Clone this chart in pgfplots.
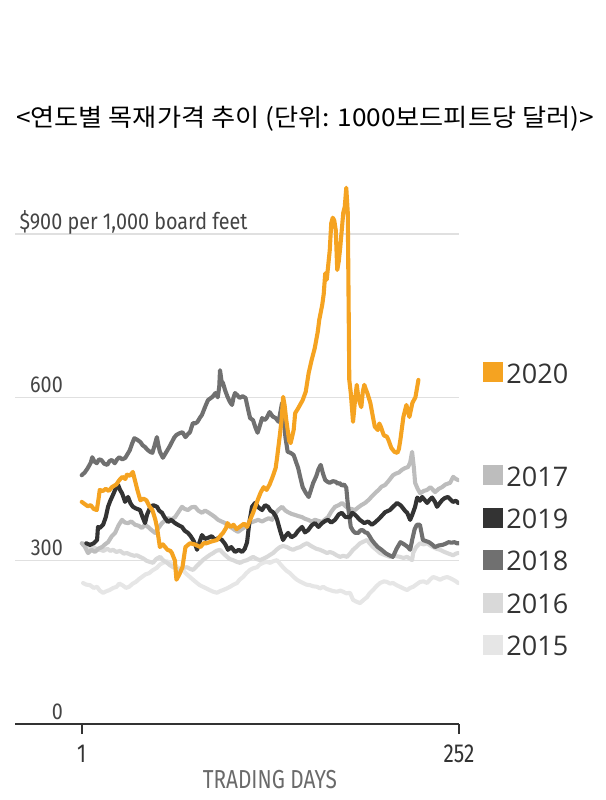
\documentclass[border=0pt]{standalone}
\usepackage{pgfplots}
\pgfplotsset{compat=1.18}
\usepackage{fontspec}
\setmainfont{Liberation Serif}
\newfontfamily\titlefont[FakeStretch=1.07]{Noto Sans CJK KR}
\newfontfamily\yfont[FakeStretch=0.86]{Fira Sans}
\newfontfamily\xfont[FakeStretch=0.8]{Fira Sans}
\newfontfamily\legfont{Open Sans}
\definecolor{c2020}{HTML}{F5A321}
\definecolor{c2017}{HTML}{BDBDBD}
\definecolor{c2019}{HTML}{333333}
\definecolor{c2018}{HTML}{707070}
\definecolor{c2016}{HTML}{D9D9D9}
\definecolor{c2015}{HTML}{E6E6E6}
\definecolor{ctext}{HTML}{333333}
\definecolor{cylab}{HTML}{444444}
\definecolor{cgrid}{HTML}{E0E0E0}
\definecolor{cxlab}{HTML}{6A6A6A}
\tikzset{ln/.style={line width=4.1bp, line join=round, line cap=round}}
\begin{document}
\begin{tikzpicture}
\useasboundingbox (-15bp,-76bp) rectangle (591bp,724bp);
\node[anchor=base, text=black, font=\titlefont\fontsize{24.5bp}{24.5bp}\selectfont] at (290bp,597bp) {<연도별 목재가격 추이 (단위: 1000보드피트당 달러)>};
\begin{axis}[
  scale only axis, width=444bp, height=544.4bp,
  xmin=-43.4, xmax=252, ymin=0, ymax=1000,
  axis x line*=bottom, axis y line*=left,
  separate axis lines,
  x axis line style={draw=ctext, line width=2.2bp},
  y axis line style={draw=none},
  xtick={1,252}, xticklabels={1,252},
  xtick align=outside, ytick align=inside,
  major tick length=10bp,
  xtick style={draw=ctext, line width=1.6bp},
  ytick style={draw=none},
  ytick={0,300,600,900},
  yticklabels={0,300,600,{\makebox[0pt][r]{\$900}\makebox[0pt][l]{\ per 1,000 board feet}}},
  ymajorgrids, grid style={draw=cgrid, line width=1.5bp},
  yticklabel style={anchor=base east, inner sep=0pt, xshift=48bp, yshift=5bp, text=cylab, font=\yfont\fontsize{23bp}{23bp}\selectfont},
  xticklabel style={anchor=base, inner sep=0pt, yshift=-28bp, text=ctext, font=\xfont\fontsize{26bp}{26bp}\selectfont},
  xlabel={TRADING DAYS},
  xlabel style={at={(axis description cs:0.574,0)}, anchor=base, inner sep=0pt, yshift=-64bp, text=cxlab, font=\xfont\fontsize{26bp}{26bp}\selectfont},
  legend style={at={(axis description cs:1.0541,0.6686)}, anchor=north west, draw=none, fill=none, inner sep=0pt, outer sep=0pt, row sep=18bp, column sep=4bp, font=\legfont\fontsize{27bp}{27bp}\selectfont, text=ctext, nodes={inner sep=0pt}},
  legend cell align=left,
]
% 2015
\addplot[c2015, ln, forget plot] coordinates {
(1.9,259)(4,256)(6.5,255)(9,250)(11.2,252)(13,245)(15.2,241)(17.5,244)(19.5,246)(22,250)(24.2,252)(26,258)(28,255)(30.5,250)(32.5,252)(35,258)(37,261)(39,266)(41,270)(43.5,275)(45.8,277)(48,282)(51,287)(53,293)(55,296)(57.5,299)(59.8,296)(62,292)(64.4,288)(66,286)(68,283)(70.5,276)(73,270)(75.5,264)(77.7,259)(79.5,255)(81.7,252)(84,249)(86,246)(88.5,243)(91,241)(93,244)(95,246)(97.5,249)(99.6,252)(102,256)(104.3,259)(106,265)(108.3,270)(110.5,277)(112.9,283)(115,286)(117.6,288)(119.5,293)(121.6,296)(124,298)(126.3,296)(128.5,299)(130.9,301)(133,294)(134.9,288)(137,282)(139.6,277)(142,270)(144.2,265)(146,262)(148.2,259)(150.5,256)(152.9,255)(155,253)(157.6,252)(159.5,249)(161.6,252)(164,248)(166.2,246)(168.5,244)(170.9,243)(173,245)(174.9,243)(177,240)(179.5,241)(181.5,228)(183.5,225)(186.2,222)(188.5,228)(190.8,233)(192.5,240)(194.8,246)(197,253)(199.5,259)(202,262)(204.1,261)(206,258)(208.1,259)(210.5,255)(212.8,252)(215,249)(217.5,246)(219.5,250)(221.5,252)(224,257)(226.1,261)(228.5,262)(230.8,259)(233,266)(234.8,270)(237,268)(239.4,265)(241.5,268)(244.1,270)(246,268)(248.1,265)(250,262)(251.4,259)
};
% 2016
\addplot[c2016, ln, forget plot] coordinates {
(1.9,332)(3,328)(4.5,325)(7,322)(9.5,324)(11.5,320)(13.2,320)(15.5,318)(18,322)(20,318)(21.8,320)(24,316)(26.5,318)(29,313)(31.1,314)(33.5,311)(36,309)(37.5,310)(39.8,307)(42,304)(44,300)(46,298)(48.4,296)(50.5,303)(53.1,307)(55.5,300)(57.8,296)(59.5,292)(61.8,288)(64,285)(66.4,283)(68.5,287)(71.1,288)(73,285)(75.1,283)(77.5,290)(79.7,296)(82,302)(84.4,307)(86.5,311)(88.4,314)(90.5,318)(93,320)(95,314)(97.7,307)(99.5,303)(101.7,301)(104,298)(106.3,296)(108.5,299)(111,301)(113,304)(115,307)(117.5,303)(119.6,301)(122,304)(124.3,307)(126.5,311)(128.3,314)(130.5,320)(132.9,325)(135,327)(137.6,325)(139.5,322)(141.6,320)(144,323)(146.3,325)(148.5,329)(150.9,332)(153,328)(154.9,325)(157,322)(159.5,320)(162,317)(164.2,314)(166,316)(168.2,314)(170.5,310)(172.9,307)(175,309)(177.5,307)(179.5,313)(181.5,320)(184,326)(186.2,332)(188.5,335)(190.8,338)(192.5,332)(194.8,325)(197,320)(199.5,314)(202,311)(204,309)(206.1,307)(209,309)(212.8,307)(215,305)(217.5,307)(219,304)(220.8,301)(221.5,314)(223.5,325)(226.1,332)(228.5,330)(230.8,332)(232.8,328)(234.8,325)(237,322)(239.4,320)(241.5,317)(244.1,314)(246,312)(248.1,310)(250,313)(251.4,314)
};
% 2017
\addplot[c2017, ln, forget plot] coordinates {
(1,332)(3,326)(5.2,314)(7.5,320)(9.8,316)(12,322)(14.5,325)(16.5,330)(18.5,334)(21,345)(23.2,351)(25.5,365)(27.8,375)(29.8,370)(31.8,369)(34,372)(36.5,366)(39,364)(41.1,360)(43,366)(45.1,362)(47.5,356)(49.8,351)(52,360)(54.4,369)(56.5,374)(58.4,378)(61,376)(63.1,380)(65.5,390)(67.7,399)(69.5,395)(71.7,393)(74,398)(76.4,399)(78.5,392)(81,388)(83,392)(85,389)(87.7,384)(89.7,380)(91.7,375)(94,372)(96.4,369)(98.5,364)(101,360)(103,356)(105,353)(107.5,358)(109.7,362)(112,368)(114.3,371)(116.5,373)(118.3,375)(121,372)(123,375)(125.5,378)(127.6,375)(129.5,385)(131.6,393)(134.3,399)(136.5,392)(138.3,389)(140.5,386)(142.9,384)(145,382)(147.6,380)(149.5,377)(151.6,375)(154,372)(156.2,375)(158.5,373)(160.9,371)(163,376)(164.9,380)(167,390)(169.5,399)(172,402)(174.2,406)(176.5,400)(178.5,396)(180.5,395)(182.8,393)(185,398)(187,402)(189.5,406)(192,412)(194,418)(196.1,424)(198.5,430)(200.5,436)(202.8,439)(205,446)(208.1,457)(210,460)(212,462)(214.1,467)(216,470)(218.1,472)(219.5,480)(220.8,500)(222,470)(222.8,443)(224.5,432)(226.1,424)(228.5,428)(230.8,430)(233,435)(236.1,426)(238.5,432)(240.7,435)(243,440)(246.1,443)(248.1,454)(250,450)(251.4,448)
};
% 2018
\addplot[c2018, ln, forget plot] coordinates {
(1,457)(3,462)(5,470)(7,480)(8,490)(9.5,482)(11,479)(12.5,486)(14,485)(16,478)(18,476)(19.5,483)(21,485)(23,479)(24.5,486)(26,490)(28,486)(30,489)(31.5,496)(33,503)(34.5,515)(36,525)(38,522)(40,518)(41.5,512)(43,509)(45,503)(46.5,500)(48,498)(49.5,512)(51,527)(52,512)(53,500)(55,489)(56.5,496)(58,503)(59.5,510)(61,518)(62.5,526)(64,531)(66,534)(68,536)(70,527)(71.5,532)(73,536)(75,553)(76.5,552)(78,555)(79.5,562)(81,568)(83,582)(85,595)(86.5,598)(88,601)(90,608)(91.5,600)(92.5,620)(93,650)(94,630)(95,626)(96.5,612)(98,601)(99.5,592)(101,586)(102,600)(103,608)(104.5,604)(106,599)(108,602)(110,599)(111.5,580)(113,562)(115,558)(116.5,545)(118,535)(119.5,548)(121,562)(122.5,558)(124,562)(126,573)(128,565)(130,562)(132,555)(133.3,575)(134.3,590)(135.5,560)(136.5,527)(138,500)(140,498)(142,494)(143.5,482)(145,470)(146.5,452)(148,435)(150,425)(152,417)(153.5,430)(155,443)(157,455)(158.5,468)(160,476)(161.5,460)(163,448)(164.5,445)(166,443)(168,446)(170,445)(171.5,441)(172.5,443)(174,438)(175.5,440)(177,434)(177.8,410)(178.5,393)(180,362)(181.5,355)(183,351)(185,351)(186.5,356)(188,356)(189.5,352)(191,351)(192.5,345)(194,338)(196,331)(198,325)(200.5,320)(203,314)(205.5,310)(208,307)(210.5,322)(213,334)(215.5,330)(218,325)(219.5,320)(221,340)(222.5,358)(224,366)(226,366)(227,352)(228,338)(230,336)(232,334)(234,330)(236,325)(238.5,328)(241,329)(243,331)(245,334)(247,333)(249,334)(250.5,332)(252,332)
};
% 2019
\addplot[c2019, ln, forget plot] coordinates {
(4,332)(6.5,329)(9,332)(11.2,338)(11.8,362)(13,360)(15.2,366)(17,380)(18.5,399)(20,410)(21.8,421)(23.5,432)(25.2,439)(26.5,430)(27.8,424)(29,415)(29.8,408)(31.8,417)(33.5,405)(35.1,399)(37,396)(39.8,393)(41.5,380)(43.1,369)(44.5,385)(46.4,397)(48.5,402)(51.1,399)(52.5,392)(54.4,388)(56,380)(58.4,371)(60.5,375)(63.1,369)(65.5,365)(67.7,362)(69.5,355)(71.7,351)(73.5,345)(75.1,338)(76.5,330)(77.7,320)(79.5,335)(81,347)(83,340)(85,342)(87.5,345)(89.7,338)(92,342)(94.3,338)(96.5,330)(98.3,320)(100.5,325)(103,316)(105.5,320)(107.7,316)(109.5,322)(111,334)(112.5,370)(114.3,399)(116.3,406)(118.5,398)(121,393)(123,402)(125,399)(126.5,392)(128.3,389)(130,382)(131,375)(133,355)(134.9,338)(136.5,345)(138.3,351)(140.5,343)(142.9,347)(145,355)(147.6,362)(149.5,352)(151.6,356)(154,365)(156.2,369)(158.5,362)(160.9,369)(163,373)(164.9,375)(167,370)(169.5,375)(172,385)(174,388)(176.5,380)(179.5,380)(181,388)(183,384)(186,375)(189,369)(191.5,372)(194,366)(196,370)(198,375)(200.5,382)(202.8,389)(206,393)(208.5,400)(210.8,406)(213,402)(214,399)(216,392)(217.5,388)(219.5,375)(221,385)(222.8,399)(224.2,416)(226,410)(227.5,417)(229,412)(230.8,406)(232.5,412)(234.1,416)(236,408)(237.4,399)(239,405)(240.7,411)(242.5,415)(244.7,417)(246.5,412)(248,408)(250,410)(251.4,406)
};
% 2020
\addplot[c2020, ln, forget plot] coordinates {
(1,408)(3,404)(5,400)(7,402)(9,395)(11,393)(12,410)(13,430)(15,428)(17,432)(19,428)(21,435)(24,440)(26,448)(28,454)(30,450)(31,458)(33,456)(35,463)(36,452)(38,430)(40,411)(42,414)(44,411)(46,400)(48,393)(50,375)(51,362)(53,325)(55,330)(58,320)(60,318)(61,314)(63,300)(64,265)(66,275)(68,288)(70,325)(73,332)(76,330)(80,325)(82,332)(84,332)(87,335)(91,338)(93,345)(95,351)(97,360)(98,369)(100,362)(102,366)(104,358)(106,362)(109,368)(111,362)(113,375)(115,388)(118,411)(120,425)(122,435)(124,430)(126,440)(128,454)(130,470)(131,490)(133,535)(134,560)(135,601)(136,585)(137,560)(139,520)(140,516)(142,540)(143,571)(145,580)(148,595)(150,610)(152,645)(154,669)(156,690)(158,720)(159,742)(161,770)(162,790)(163,828)(164,816)(166,870)(167,920)(168,930)(169,925)(170,907)(171,834)(172,850)(173,876)(175,939)(176,950)(177,985)(178,939)(178.8,700)(179,632)(180,608)(181.5,555)(183,600)(184,623)(185,600)(186,590)(187,582)(188,610)(189,623)(190,615)(191,608)(193,590)(195,560)(196,546)(198,540)(199,552)(200,546)(202,530)(204,528)(205,522)(207,507)(209,500)(211,498)(212,505)(213,522)(215,564)(217,586)(218,575)(219,564)(221,590)(223,600)(225,632)
};
\addlegendimage{legend image code/.code={\fill[c2020] (0bp,-9bp) rectangle (19bp,10bp);}}
\addlegendentry{\rule[-10bp]{0pt}{33bp}2020}
\addlegendimage{empty legend}
\addlegendentry{\rule[-10bp]{0pt}{51bp}}
\addlegendimage{legend image code/.code={\fill[c2017] (0bp,-9bp) rectangle (19bp,10bp);}}
\addlegendentry{\rule[-10bp]{0pt}{33bp}2017}
\addlegendimage{legend image code/.code={\fill[c2019] (0bp,-9bp) rectangle (19bp,10bp);}}
\addlegendentry{\rule[-10bp]{0pt}{33bp}2019}
\addlegendimage{legend image code/.code={\fill[c2018] (0bp,-9bp) rectangle (19bp,10bp);}}
\addlegendentry{\rule[-10bp]{0pt}{33bp}2018}
\addlegendimage{legend image code/.code={\fill[c2016] (0bp,-9bp) rectangle (19bp,10bp);}}
\addlegendentry{\rule[-10bp]{0pt}{33bp}2016}
\addlegendimage{legend image code/.code={\fill[c2015] (0bp,-9bp) rectangle (19bp,10bp);}}
\addlegendentry{\rule[-10bp]{0pt}{33bp}2015}
\end{axis}
\end{tikzpicture}
\end{document}
